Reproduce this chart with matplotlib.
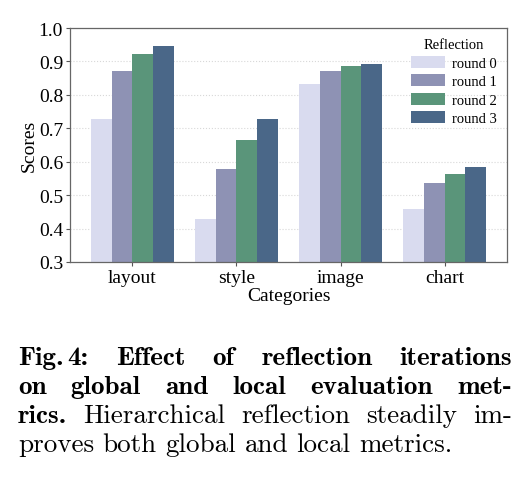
import numpy as np
import matplotlib
matplotlib.use("Agg")
import matplotlib.pyplot as plt

categories = ["layout", "style", "image", "chart"]
rounds = ["round 0", "round 1", "round 2", "round 3"]
scores = {
    "round 0": [0.728, 0.428, 0.832, 0.458],
    "round 1": [0.871, 0.577, 0.871, 0.536],
    "round 2": [0.921, 0.664, 0.886, 0.563],
    "round 3": [0.945, 0.728, 0.892, 0.584],
}
colors = ["#d9dbef", "#8e92b4", "#5a957a", "#4a6788"]

# "~" marks a thin, unstretched space
caption_lines = [
    [("Fig.~4: Effect of reflection iterations", "b")],
    [("on global and local evaluation met-", "b")],
    [("rics.", "b"), ("Hierarchical reflection steadily im-", "r")],
    [("proves both global and local metrics.", "r")],
]

plt.rcParams["font.family"] = "Liberation Serif"

W, H = 530, 485
fig = plt.figure(figsize=(W / 100, H / 100), dpi=100)
ax = fig.add_axes([70 / W, 1 - 263 / H, 437 / W, 234 / H])

x = np.arange(len(categories))
bw = 0.2
for i, r in enumerate(rounds):
    ax.bar(x - 0.3 + i * bw, scores[r], bw, color=colors[i], label=r, zorder=2)

ax.set_xlim(-0.6, 3.6)
ax.set_ylim(0.3, 1.0)
ax.set_yticks(np.arange(0.3, 1.01, 0.1))
ax.set_yticklabels([f"{v:.1f}" for v in np.arange(0.3, 1.01, 0.1)])
ax.set_xticks(x)
ax.set_xticklabels(categories)
ax.tick_params(labelsize=14, length=3, color="#555555", pad=2)
ax.grid(axis="y", linestyle=":", color="#d8d8d8", linewidth=0.8, zorder=0)
for s in ax.spines.values():
    s.set_color("#666666")
    s.set_linewidth(0.9)
ax.set_ylabel("Scores", fontsize=14, labelpad=1)
ax.set_xlabel("Categories", fontsize=14, labelpad=1)

leg = ax.legend(title="Reflection", loc="upper right", frameon=False,
                fontsize=10.5, title_fontsize=10.5, handlelength=2.3,
                handleheight=0.9, handletextpad=0.5, labelspacing=0.3,
                borderaxespad=0.3)

# justified caption
fig.canvas.draw()
renderer = fig.canvas.get_renderer()
left, right = 18, 512
baselines = [365, 394, 423, 452]
fonts = {"b": "cmb10", "r": "cmr10"}
for li, line in enumerate(caption_lines):
    groups = []
    for txt, style in line:
        for w in txt.split(" "):
            groups.append([(p, style) for p in w.split("~")])
    placed = []
    total = 0
    for g in groups:
        parts = []
        for k, (p, style) in enumerate(g):
            t = fig.text(0, 1 - baselines[li] / H, p, fontsize=19.5,
                         family=fonts[style], va="baseline", ha="left")
            wd = t.get_window_extent(renderer).width
            parts.append((t, wd))
            total += wd + (4 if k > 0 else 0)
        placed.append(parts)
    if li == len(caption_lines) - 1:
        gap = 8.5
    else:
        gap = (right - left - total) / (len(placed) - 1)
    pos = left
    for parts in placed:
        for k, (t, wd) in enumerate(parts):
            if k > 0:
                pos += 4
            t.set_x(pos / W)
            pos += wd
        pos += gap

fig.savefig("out.png", dpi=100)
